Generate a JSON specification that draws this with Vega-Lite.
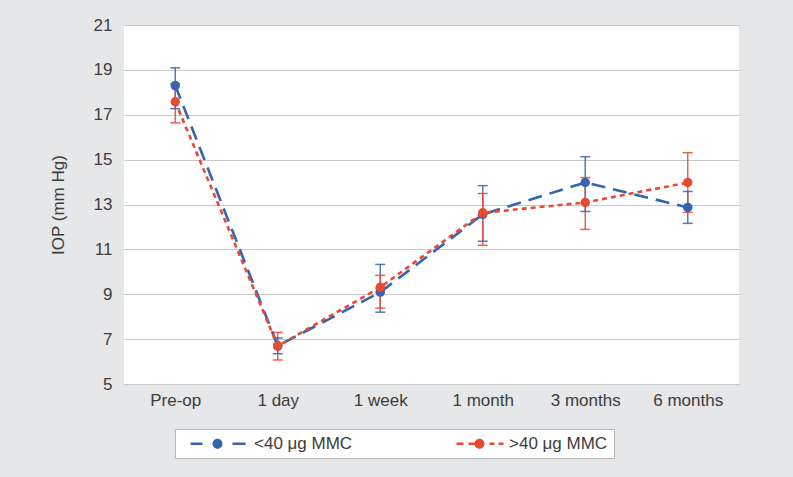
{
  "$schema": "https://vega.github.io/schema/vega-lite/v6.json",
  "width": 615,
  "height": 359,
  "autosize": {"type": "none"},
  "padding": {"left": 124, "top": 25, "right": 54, "bottom": 93},
  "background": "#e6e7e9",
  "config": {
    "view": {"fill": "white", "stroke": null},
    "font": "Liberation Sans",
    "axis": {
      "labelFont": "Liberation Sans",
      "labelFontSize": 17,
      "labelColor": "#3c3c3c",
      "titleFont": "Liberation Sans",
      "titleFontSize": 17,
      "titleColor": "#3c3c3c",
      "titleFontWeight": "normal",
      "domain": false,
      "ticks": false
    },
    "legend": {
      "orient": "none",
      "legendX": 51,
      "legendY": 404,
      "direction": "horizontal",
      "columns": 2,
      "columnPadding": 83,
      "symbolSize": 100,
      "labelOffset": 56,
      "labelFontSize": 17,
      "labelFont": "Liberation Sans",
      "labelColor": "#3c3c3c",
      "labelLimit": 300,
      "padding": 6,
      "strokeColor": "#b8b8b8",
      "fillColor": "white",
      "symbolStrokeWidth": 0,
      "symbolOpacity": 1
    }
  },
  "data": {
    "values": [
      {"time": "Pre-op", "series": "<40 μg MMC", "mean": 18.3, "lo": 17.27, "hi": 19.09},
      {"time": "1 day", "series": "<40 μg MMC", "mean": 6.7, "lo": 6.35, "hi": 7.05},
      {"time": "1 week", "series": "<40 μg MMC", "mean": 9.09, "lo": 8.2, "hi": 10.33},
      {"time": "1 month", "series": "<40 μg MMC", "mean": 12.56, "lo": 11.36, "hi": 13.84},
      {"time": "3 months", "series": "<40 μg MMC", "mean": 13.98, "lo": 12.69, "hi": 15.13},
      {"time": "6 months", "series": "<40 μg MMC", "mean": 12.87, "lo": 12.16, "hi": 13.58},
      {"time": "Pre-op", "series": ">40 μg MMC", "mean": 17.58, "lo": 16.64, "hi": 18.38},
      {"time": "1 day", "series": ">40 μg MMC", "mean": 6.69, "lo": 6.07, "hi": 7.3},
      {"time": "1 week", "series": ">40 μg MMC", "mean": 9.31, "lo": 8.38, "hi": 9.84},
      {"time": "1 month", "series": ">40 μg MMC", "mean": 12.63, "lo": 11.18, "hi": 13.49},
      {"time": "3 months", "series": ">40 μg MMC", "mean": 13.09, "lo": 11.89, "hi": 14.2},
      {"time": "6 months", "series": ">40 μg MMC", "mean": 13.98, "lo": 12.65, "hi": 15.31}
    ]
  },
  "encoding": {
    "x": {
      "field": "time",
      "type": "ordinal",
      "sort": ["Pre-op", "1 day", "1 week", "1 month", "3 months", "6 months"],
      "scale": {"type": "point", "padding": 0.5},
      "axis": {"title": null, "labelAngle": 0, "grid": false, "labelPadding": 8}
    },
    "color": {
      "field": "series",
      "type": "nominal",
      "scale": {"domain": ["<40 μg MMC", ">40 μg MMC"], "range": ["#3564b0", "#e64a33"]},
      "legend": {"title": null}
    }
  },
  "layer": [
    {
      "mark": {"type": "rule", "strokeWidth": 1.5, "opacity": 0.85},
      "encoding": {
        "y": {
          "field": "lo",
          "type": "quantitative",
          "scale": {"domain": [5, 21], "nice": false, "zero": false},
          "axis": {"title": "IOP (mm Hg)", "values": [5, 7, 9, 11, 13, 15, 17, 19, 21], "grid": true, "gridColor": "#c8c8c8", "gridWidth": 1.2, "labelPadding": 12, "titlePadding": 26}
        },
        "y2": {"field": "hi"}
      }
    },
    {
      "mark": {"type": "tick", "size": 10, "thickness": 1.5, "opacity": 0.85},
      "encoding": {
        "y": {"field": "lo", "type": "quantitative", "axis": {"title": "IOP (mm Hg)", "values": [5, 7, 9, 11, 13, 15, 17, 19, 21], "grid": true, "gridColor": "#c8c8c8", "gridWidth": 1.2, "labelPadding": 12, "titlePadding": 26}}
      }
    },
    {
      "mark": {"type": "tick", "size": 10, "thickness": 1.5, "opacity": 0.85},
      "encoding": {
        "y": {"field": "hi", "type": "quantitative", "axis": {"title": "IOP (mm Hg)", "values": [5, 7, 9, 11, 13, 15, 17, 19, 21], "grid": true, "gridColor": "#c8c8c8", "gridWidth": 1.2, "labelPadding": 12, "titlePadding": 26}}
      }
    },
    {
      "mark": {"type": "line", "strokeWidth": 2.6},
      "encoding": {
        "y": {"field": "mean", "type": "quantitative", "axis": {"title": "IOP (mm Hg)", "values": [5, 7, 9, 11, 13, 15, 17, 19, 21], "grid": true, "gridColor": "#c8c8c8", "gridWidth": 1.2, "labelPadding": 12, "titlePadding": 26}},
        "strokeDash": {
          "field": "series",
          "type": "nominal",
          "scale": {"domain": ["<40 μg MMC", ">40 μg MMC"], "range": [[14, 8], [5, 4]]},
          "legend": null
        }
      }
    },
    {
      "mark": {"type": "point", "filled": true, "size": 90, "opacity": 1},
      "encoding": {
        "y": {"field": "mean", "type": "quantitative", "axis": {"title": "IOP (mm Hg)", "values": [5, 7, 9, 11, 13, 15, 17, 19, 21], "grid": true, "gridColor": "#c8c8c8", "gridWidth": 1.2, "labelPadding": 12, "titlePadding": 26}}
      }
    },
    {
      "mark": {"type": "point", "filled": true, "opacity": 0},
      "encoding": {
        "y": {"field": "mean", "type": "quantitative", "axis": {"title": "IOP (mm Hg)", "values": [5, 7, 9, 11, 13, 15, 17, 19, 21], "grid": true, "gridColor": "#c8c8c8", "gridWidth": 1.2, "labelPadding": 12, "titlePadding": 26}},
        "shape": {
          "field": "series",
          "type": "nominal",
          "scale": {
            "domain": ["<40 μg MMC", ">40 μg MMC"],
            "range": [
              "M0.2,-0.25H2.6V0.25H0.2Z M4.6,0A1,1 0 1,0 6.6,0A1,1 0 1,0 4.6,0Z M8.6,-0.25H11.2V0.25H8.6Z",
              "M2.4,-0.25H3.8V0.25H2.4Z M4.8,-0.25H6V0.25H4.8Z M6,0A1,1 0 1,0 8,0A1,1 0 1,0 6,0Z M9,-0.25H10V0.25H9Z M10.8,-0.25H11.8V0.25H10.8Z"
            ]
          },
          "legend": {"title": null}
        }
      }
    }
  ]
}
